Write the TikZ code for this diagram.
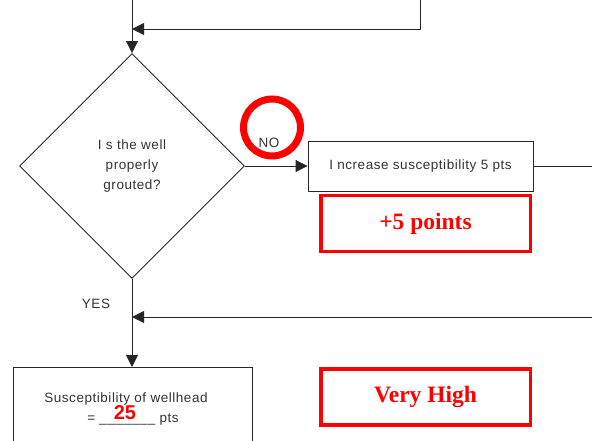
\documentclass[tikz,border=0pt]{standalone}
\usepackage{fontspec}
\setmainfont[LetterSpace=4]{Liberation Sans}
\newfontfamily\serifb{Liberation Serif}
\newfontfamily\sansb{Liberation Sans}
\usetikzlibrary{shapes.geometric,arrows.meta}
\begin{document}
\begin{tikzpicture}[x=1pt,y=-1pt,
  line/.style={draw=black!85, line width=0.9pt},
  arr/.style={line, -{Triangle[length=12pt,width=12pt]}},
  txt/.style={font=\fontsize{13.5}{20}\selectfont, text=black!80, inner sep=0pt},
  redbox/.style={draw=red, line width=3.5pt, minimum width=209.5pt, minimum height=56pt, inner sep=0pt, font=\serifb\bfseries\fontsize{23.5}{26}\selectfont, text=red},
  plainbox/.style={line, rectangle, minimum width=225pt, minimum height=50pt, inner sep=0pt, font=\fontsize{13.5}{20}\selectfont, text=black!80}
]
\useasboundingbox (0,0) rectangle (592,441);

% decision
\node[diamond, line, minimum width=225pt, minimum height=225pt, aspect=1, inner sep=0pt, align=center, font=\fontsize{13.5}{20}\selectfont, text=black!80] (q) at (132,166) {I s the well\\properly\\grouted?};

% boxes
\node[plainbox] (inc) at (420.5,166) {I ncrease susceptibility 5 pts};
\node[redbox] (p5) at (425.5,223.5) {+5 points};
\node[redbox] (vh) at (425.5,397) {Very High};

% red circle
\node[draw=red, line width=7pt, circle, minimum size=57pt, inner sep=0pt] (ring) at (272,127.5) {};

% labels
\node[txt] (no) at (269,143) {NO};
\node[txt] (yes) at (96,304) {YES};

% result box (cut off at the bottom)
\coordinate (bl) at (13,441);
\coordinate (br) at (252,441);
\coordinate (bt) at (132,367);
\draw[line] (bl) -- (13,367) -- (252,367) -- (br);
\node[txt] (s1) at (126,399) {Susceptibility of wellhead};
\node[txt] (s2) at (133,420) {= \_\_\_\_\_\_\_ pts};
\node[font=\sansb\bfseries\fontsize{20}{22}\selectfont, text=red, inner sep=0pt] (n25) at (125,413) {25};

% connectors
\coordinate (t0) at (132,0);
\coordinate (r0) at (420,0);
\coordinate (j1) at (132,29);
\coordinate (e1) at (592,166);
\coordinate (e2) at (592,317);
\coordinate (j2) at (132,317);

\draw[arr] (t0) -- (q.north);
\draw[arr] (r0) |- (j1);
\draw[arr] (q.east) -- (inc.west);
\draw[line] (inc.east) -- (e1);
\draw[arr] (q.south) -- (bt);
\draw[arr] (e2) -- (j2);
\end{tikzpicture}
\end{document}
